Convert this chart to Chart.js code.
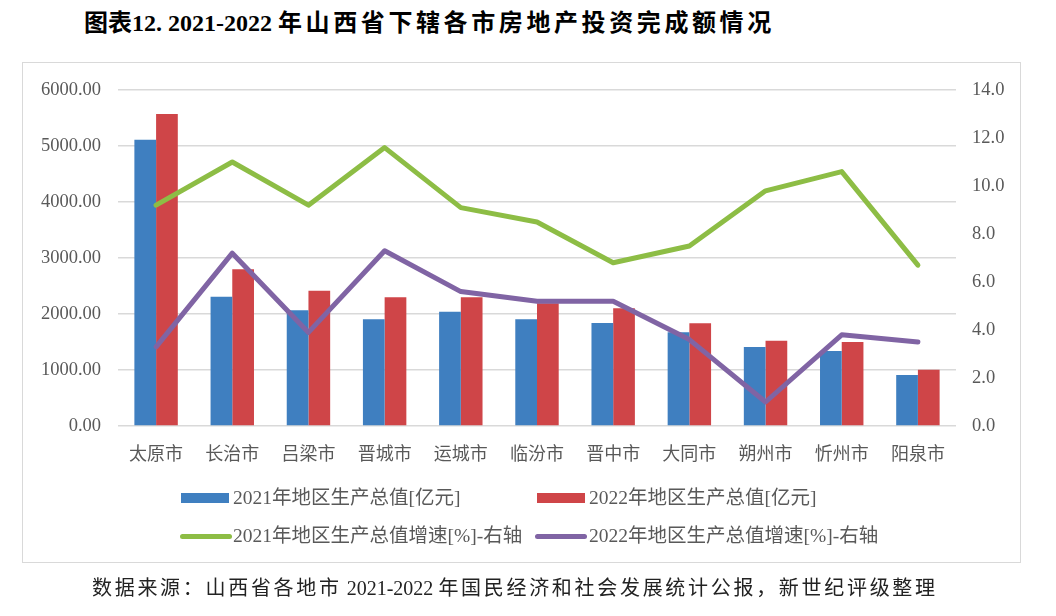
<!DOCTYPE html>
<html>
<head>
<meta charset="utf-8">
<script src="https://cdn.jsdelivr.net/npm/chart.js@4.4.1/dist/chart.umd.min.js"></script>
<style>
  html, body { margin: 0; padding: 0; background: #fff; }
  body { width: 1056px; height: 616px; position: relative; overflow: hidden; font-family: "Liberation Serif", "Noto Sans CJK SC", serif; }
  #title { position: absolute; left: 84px; top: 8px; font-size: 24px; font-weight: bold; color: #000; white-space: nowrap; line-height: 30px; }
  #title .sp { letter-spacing: 3.6px; }
  #box { position: absolute; left: 22px; top: 62px; width: 999px; height: 501px; border: 1px solid #d9d9d9; box-sizing: border-box; }
  canvas { position: absolute; left: 0; top: 0; }
  .lg { position: absolute; font-size: 19.5px; color: #595959; white-space: nowrap; line-height: 24px; }
  .sw { position: absolute; }
  #source { position: absolute; left: 92px; top: 575px; font-size: 20px; color: #222; white-space: nowrap; line-height: 26px; }
  #source .sp { letter-spacing: 2.7px; }
</style>
</head>
<body>
<div id="title">图表12. 2021-2022 <span class="sp">年山西省下辖各市房地产投资完成额情况</span></div>
<div id="box"></div>
<canvas id="c" width="1056" height="616"></canvas>
<div id="legend"></div>
<div id="source"><span class="sp">数据来源：山西省各地市</span> 2021-2022 <span class="sp">年国民经济和社会发展统计公报，新世纪评级整理</span></div>
<script>
const categories = ["太原市","长治市","吕梁市","晋城市","运城市","临汾市","晋中市","大同市","朔州市","忻州市","阳泉市"];
const gdp2021 = [5110, 2310, 2065, 1905, 2042, 1905, 1839, 1673, 1411, 1339, 911];
const gdp2022 = [5571, 2800, 2417, 2298, 2298, 2190, 2101, 1833, 1524, 1500, 1005];
const growth2021 = [9.2, 11.0, 9.2, 11.6, 9.1, 8.5, 6.8, 7.5, 9.8, 10.6, 6.7];
const growth2022 = [3.3, 7.2, 3.9, 7.3, 5.6, 5.2, 5.2, 3.6, 1.0, 3.8, 3.5];
const seriesNames = ["2021年地区生产总值[亿元]", "2022年地区生产总值[亿元]", "2021年地区生产总值增速[%]-右轴", "2022年地区生产总值增速[%]-右轴"];
const leftTicks = [0, 1000, 2000, 3000, 4000, 5000, 6000];
const rightTicks = [0, 2, 4, 6, 8, 10, 12, 14];

const colors = ["#3f7fc0", "#cf4548", "#8dbd45", "#8064a4"];
const tickFont = { family: "'Liberation Serif', 'Noto Sans CJK SC', serif", size: 18.5 };

new Chart(document.getElementById('c'), {
  data: {
    labels: categories,
    datasets: [
      { type: 'line', label: seriesNames[2], data: growth2021, yAxisID: 'y2', borderColor: colors[2], backgroundColor: colors[2], borderWidth: 5, pointRadius: 0, tension: 0, borderCapStyle: 'round', borderJoinStyle: 'round', order: 0 },
      { type: 'line', label: seriesNames[3], data: growth2022, yAxisID: 'y2', borderColor: colors[3], backgroundColor: colors[3], borderWidth: 5, pointRadius: 0, tension: 0, borderCapStyle: 'round', borderJoinStyle: 'round', order: 0 },
      { type: 'bar', label: seriesNames[0], data: gdp2021, yAxisID: 'y', backgroundColor: colors[0], barPercentage: 1, categoryPercentage: 0.57, order: 1 },
      { type: 'bar', label: seriesNames[1], data: gdp2022, yAxisID: 'y', backgroundColor: colors[1], barPercentage: 1, categoryPercentage: 0.57, order: 1 }
    ]
  },
  options: {
    responsive: false,
    animation: false,
    devicePixelRatio: 1,
    layout: { padding: { left: 22, right: 34, top: 90, bottom: 150 } },
    plugins: { legend: { display: false }, tooltip: { enabled: false } },
    scales: {
      x: {
        grid: { display: false },
        border: { display: false },
        ticks: { color: '#595959', font: { family: "'Liberation Serif', 'Noto Sans CJK SC', serif", size: 18 }, padding: 10, maxRotation: 0, autoSkip: false },
        afterFit: s => { s.height = 40; }
      },
      y: {
        position: 'left',
        min: 0, max: 6000,
        afterBuildTicks: s => { s.ticks = leftTicks.map(v => ({ value: v })); },
        grid: { color: '#d9d9d9', lineWidth: 1.5, drawTicks: false },
        border: { display: false },
        ticks: { color: '#595959', font: tickFont, padding: 17, callback: v => Number(v).toFixed(2) },
        afterFit: s => { s.width = 96; }
      },
      y2: {
        position: 'right',
        min: 0, max: 14,
        afterBuildTicks: s => { s.ticks = rightTicks.map(v => ({ value: v })); },
        grid: { drawOnChartArea: false, drawTicks: false },
        border: { display: false },
        ticks: { color: '#595959', font: tickFont, padding: 16, callback: v => Number(v).toFixed(1) },
        afterFit: s => { s.width = 66; }
      }
    }
  }
});

// HTML legend (two rows)
const legend = document.getElementById('legend');
const items = [
  { name: seriesNames[0], color: colors[0], kind: 'box', sx: 181, tx: 233, y: 498 },
  { name: seriesNames[1], color: colors[1], kind: 'box', sx: 537, tx: 589, y: 498 },
  { name: seriesNames[2], color: colors[2], kind: 'line', sx: 180, tx: 233, y: 536 },
  { name: seriesNames[3], color: colors[3], kind: 'line', sx: 535, tx: 589, y: 536 }
];
items.forEach(it => {
  const sw = document.createElement('div');
  sw.className = 'sw';
  if (it.kind === 'box') {
    Object.assign(sw.style, { left: it.sx + 'px', top: (it.y - 5) + 'px', width: '48px', height: '10px', background: it.color });
  } else {
    Object.assign(sw.style, { left: it.sx + 'px', top: (it.y - 2.5) + 'px', width: '52px', height: '5px', background: it.color, borderRadius: '3px' });
  }
  legend.appendChild(sw);
  const t = document.createElement('div');
  t.className = 'lg';
  t.textContent = it.name;
  Object.assign(t.style, { left: it.tx + 'px', top: (it.y - 12) + 'px' });
  legend.appendChild(t);
});
</script>
</body>
</html>
